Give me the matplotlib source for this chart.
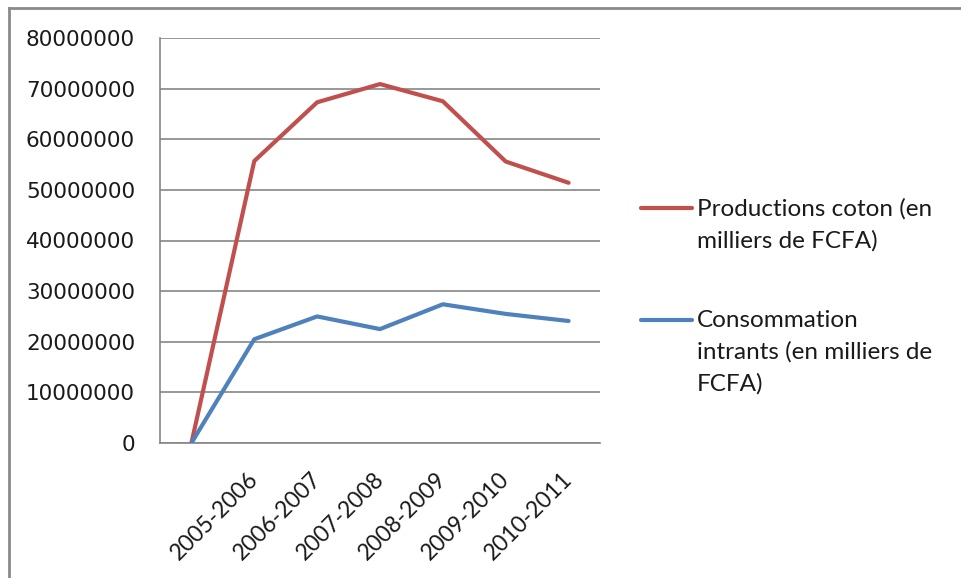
import matplotlib
matplotlib.use("Agg")
import matplotlib.pyplot as plt
import matplotlib.transforms as mtransforms
from matplotlib.lines import Line2D

# campagnes (first point has no label)
campagnes = ["", "2005-2006", "2006-2007", "2007-2008", "2008-2009", "2009-2010", "2010-2011"]
production_coton = [0, 55700000, 67300000, 70900000, 67500000, 55600000, 51400000]
consommation_intrants = [0, 20500000, 25000000, 22500000, 27400000, 25500000, 24100000]
yticks = [0, 10000000, 20000000, 30000000, 40000000, 50000000, 60000000, 70000000, 80000000]

label_prod = "Productions coton (en\nmilliers de FCFA)"
label_cons = "Consommation\nintrants (en milliers de\nFCFA)"

red = "#C0504D"
blue = "#4F81BD"
grey = "#868686"
txt = "#1a1a1a"

fig = plt.figure(figsize=(9.62, 5.78), dpi=100)
W, H = 962, 578
ax = fig.add_axes([160 / W, 1 - 443 / H, 440 / W, 405 / H])

x = list(range(len(campagnes)))
ax.plot(x, production_coton, color=red, lw=3, solid_capstyle="round", solid_joinstyle="round", zorder=3)
ax.plot(x, consommation_intrants, color=blue, lw=3, solid_capstyle="round", solid_joinstyle="round", zorder=3)

ax.set_xlim(-0.5, len(campagnes) - 0.5)
ax.set_ylim(0, 80000000)
ax.set_yticks(yticks)
ax.set_yticklabels([str(v) for v in yticks], fontsize=15.5, family="DejaVu Sans", color=txt)
ax.yaxis.grid(True, color=grey, lw=1.2)
ax.set_axisbelow(True)
ax.tick_params(axis="y", length=0, pad=18)

ax.set_xticks(x)
ax.set_xticklabels(campagnes, rotation=45, ha="right", rotation_mode="anchor",
                   fontsize=16.5, family="Lato", color=txt)
ax.tick_params(axis="x", length=0, pad=18)
shift = mtransforms.ScaledTranslation(-7 / 100, 0, fig.dpi_scale_trans)
for lab in ax.get_xticklabels():
    lab.set_transform(lab.get_transform() + shift)

for s in ["top", "right"]:
    ax.spines[s].set_visible(False)
ax.spines["left"].set_color(grey)
ax.spines["bottom"].set_color(grey)
ax.spines["left"].set_linewidth(1.2)
ax.spines["bottom"].set_linewidth(1.2)

# legend drawn by hand (Excel style: handle on first text line)
def leg(y_px, color, text):
    fig.add_artist(Line2D([641 / W, 692 / W], [1 - y_px / H] * 2, color=color, lw=3,
                          solid_capstyle="round", transform=fig.transFigure))
    fig.text(697 / W, 1 - (y_px - 10) / H, text, fontsize=17.5, family="Lato",
             color=txt, va="top", ha="left", linespacing=1.6)

leg(208, red, label_prod)
leg(320, blue, label_cons)

# outer frame (only top and left edges visible)
fig.add_artist(Line2D([9 / W, 1], [1 - 8 / H] * 2, color="#8a8a8a", lw=2, transform=fig.transFigure))
fig.add_artist(Line2D([9 / W] * 2, [0, 1 - 8 / H], color="#8a8a8a", lw=2, transform=fig.transFigure))

fig.savefig("out.png", dpi=100, facecolor="white")
